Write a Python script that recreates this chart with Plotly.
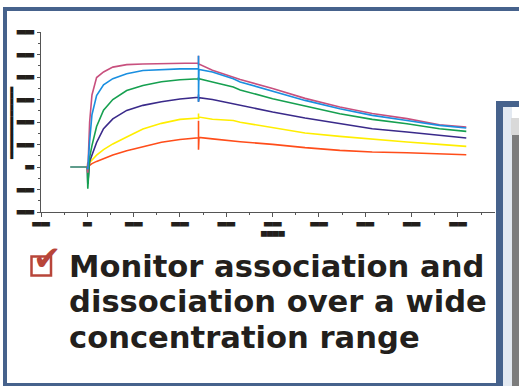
import plotly.graph_objects as go

# ---------------- data ----------------
times = [0, 1, 5, 10, 20, 35, 55, 85, 120, 160, 200, 240, 240, 240, 241,
         270, 315, 330, 400, 470, 545, 615, 690, 760, 818]
pink = [0, -50, 400, 640, 795, 845, 888, 910, 915, 920, 922, 925, 990, 905, 915,
        860, 800, 778, 698, 610, 534, 475, 430, 376, 356]
blue = [0, -20, 230, 465, 635, 730, 785, 829, 858, 868, 872, 874, 990, 580, 868,
        845, 785, 756, 676, 592, 518, 459, 414, 370, 347]
green = [0, -193, 85, 190, 360, 505, 600, 680, 725, 758, 776, 785, 800, 770, 785,
         756, 711, 685, 607, 542, 474, 423, 385, 340, 317]
purple = [0, -150, 50, 105, 218, 340, 428, 503, 548, 580, 605, 620, 645, 580, 616,
          600, 560, 545, 489, 436, 385, 340, 311, 281, 258]
yellow = [0, -60, 40, 60, 105, 155, 205, 267, 338, 388, 423, 436, 475, 425, 444,
          425, 414, 398, 347, 302, 272, 245, 222, 201, 183]
red = [0, 40, 15, 30, 50, 74, 106, 145, 180, 220, 245, 260, 412, 154, 263,
       250, 236, 225, 201, 172, 148, 133, 127, 118, 109]
baseline_t = [-37, 0]
baseline_y = [0, 0]

x_ticks = [-100, 0, 100, 200, 300, 400, 500, 600, 700, 800]
x_labels = ["▂▂", "▂", "▂▂", "▂▂", "▂▂", "▂▂", "▂▂", "▂▂", "▂▂", "▂▂"]
y_ticks = [-400, -200, 0, 200, 400, 600, 800, 1000, 1200]
y_labels = ["▂▂", "▂▂", "▂", "▂▂", "▂▂", "▂▂", "▂▂", "▂▂", "▂▂"]
x_title = "▀▀▀▀"
y_title = "▂▂▂▂▂▂▂▂▂▂▂▂"
bullet_lines = ["Monitor association and",
                "dissociation over a wide",
                "concentration range"]

# ---------------- layout helpers ----------------
W, H = 519, 386
L, R, T, B = 41, 495, 32, 212


def PX(x):
    return (x - L) / (R - L)


def PY(y):
    return (B - y) / (B - T)


fig = go.Figure()

fig.add_trace(go.Scatter(x=baseline_t, y=baseline_y, mode="lines",
                         line=dict(color="#5f9c8c", width=2), showlegend=False))
series = [(red, "#ff4d1a"), (yellow, "#ffee00"), (purple, "#3a2a8a"),
          (green, "#16a050"), (pink, "#c8507e"), (blue, "#1a8fe0")]
for ys, col in series:
    fig.add_trace(go.Scatter(x=times, y=ys, mode="lines",
                             line=dict(color=col, width=1.6), showlegend=False))

frame = "#46628c"
red_icon = "#b8453a"
shapes = [
    dict(type="rect", x0=PX(3), x1=PX(519), y0=PY(7), y1=PY(11)),
    dict(type="rect", x0=PX(3), x1=PX(7), y0=PY(7), y1=PY(386)),
    dict(type="rect", x0=PX(3), x1=PX(497), y0=PY(383), y1=PY(386)),
]
for s in shapes:
    s.update(xref="paper", yref="paper", fillcolor=frame, line_width=0, layer="above")
extra = [
    dict(type="rect", x0=PX(496), x1=PX(519), y0=PY(101), y1=PY(386), fillcolor="#ffffff"),
    dict(type="rect", x0=PX(503), x1=PX(512), y0=PY(107), y1=PY(386), fillcolor="#e3e9f1"),
    dict(type="rect", x0=PX(512), x1=PX(519), y0=PY(118), y1=PY(386), fillcolor="#7d7d7d"),
    dict(type="rect", x0=PX(511), x1=PX(519), y0=PY(118), y1=PY(135), fillcolor="#d9d9d9"),
    dict(type="rect", x0=PX(496), x1=PX(503), y0=PY(101), y1=PY(386), fillcolor=frame),
    dict(type="rect", x0=PX(496), x1=PX(519), y0=PY(101), y1=PY(107), fillcolor=frame),
]
for s in extra:
    s.update(xref="paper", yref="paper", line_width=0, layer="above")
shapes += extra
# check-box outline of the bullet
shapes.append(dict(type="rect", xref="paper", yref="paper", x0=PX(31.5), x1=PX(51), y0=PY(256.5),
                   y1=PY(275.5), line=dict(color=red_icon, width=2.5), fillcolor="rgba(0,0,0,0)",
                   layer="above"))

annotations = [
    dict(x=400, xref="x", y=PY(229), yref="paper", text=x_title, showarrow=False,
         font=dict(family="DejaVu Sans Mono", size=9.8, color="#231f1c"),
         xanchor="center", yanchor="top", borderpad=0),
    dict(x=PX(15), xref="paper", y=PY(123), yref="paper", text=y_title, showarrow=False,
         textangle=-90, font=dict(family="DejaVu Sans Mono", size=10, color="#1a1a1a"),
         xanchor="right", yanchor="middle", borderpad=0),
    dict(x=PX(47.5), xref="paper", y=PY(258), yref="paper", text="✔", showarrow=False,
         font=dict(family="DejaVu Sans", size=34, color=red_icon), xanchor="center", yanchor="middle"),
]
for line, yc in zip(bullet_lines, [266.3, 301.3, 337.9]):
    annotations.append(dict(x=PX(67), xref="paper", y=PY(yc), yref="paper", text=line,
                            showarrow=False, xanchor="left", yanchor="middle",
                            font=dict(family="DejaVu Sans", size=30.6, color="#231f1c", weight="bold")))

axis_col = "#555555"
label_font = dict(family="DejaVu Sans Mono", size=14.5, color="#231f1c")
fig.update_layout(
    width=W, height=H,
    margin=dict(l=L, r=W - R, t=T, b=H - B, pad=0),
    paper_bgcolor="white", plot_bgcolor="white",
    shapes=shapes, annotations=annotations,
    xaxis=dict(range=[-100, 880], showline=True, linecolor=axis_col, linewidth=1,
               ticks="outside", ticklen=4, tickcolor=axis_col, tickmode="array",
               tickvals=x_ticks, ticktext=x_labels, showgrid=False, zeroline=False,
               tickfont=label_font, ticklabelstandoff=-11,
               minor=dict(tickmode="linear", tick0=-100, dtick=50, ticks="outside",
                          ticklen=2, tickcolor=axis_col)),
    yaxis=dict(range=[-400, 1200], showline=True, linecolor=axis_col, linewidth=1,
               ticks="outside", ticklen=3, tickcolor=axis_col, tickmode="array",
               tickvals=y_ticks, ticktext=y_labels, showgrid=False, zeroline=False,
               tickfont=label_font, ticklabelshift=-6,
               minor=dict(tickmode="linear", tick0=-400, dtick=100, ticks="outside",
                          ticklen=2, tickcolor=axis_col)),
)

fig.write_html("out.html")
